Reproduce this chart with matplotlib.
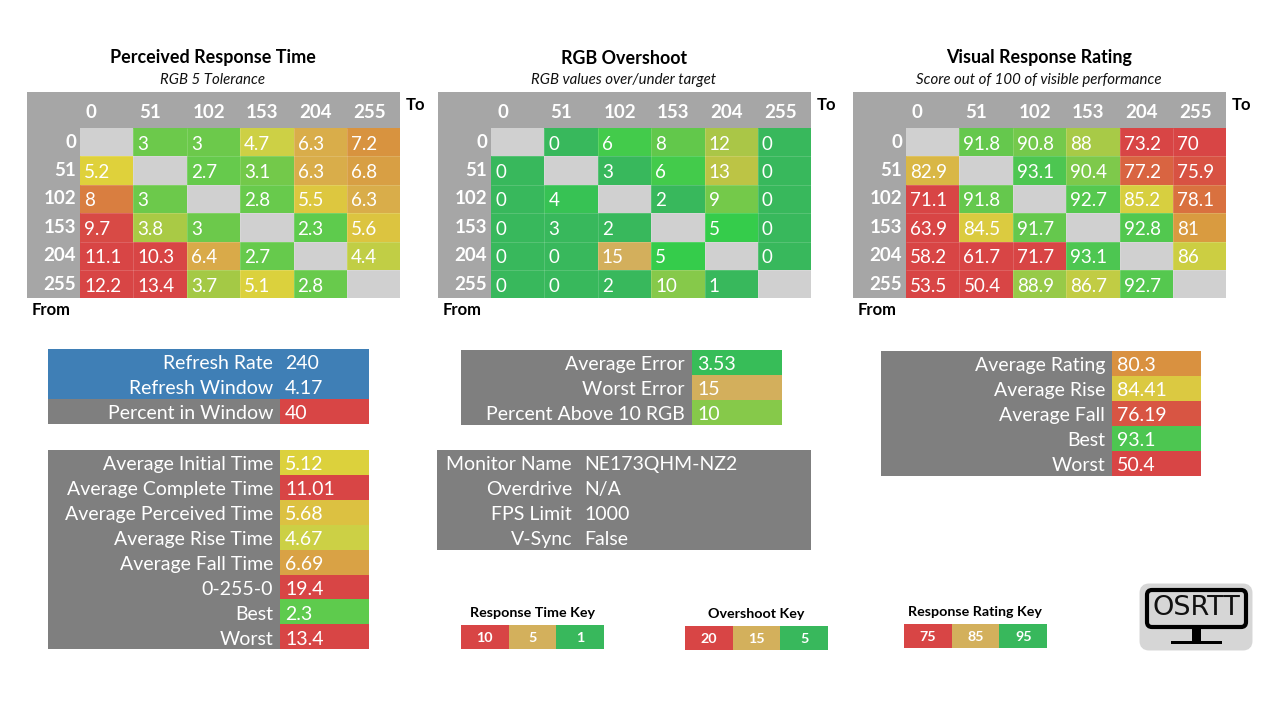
import matplotlib

matplotlib.use("Agg")
import matplotlib.pyplot as plt
import numpy as np
from matplotlib.colors import LinearSegmentedColormap, Normalize
from matplotlib.patches import FancyBboxPatch, Rectangle

plt.rcParams["font.family"] = ["Lato", "DejaVu Sans"]

levels = [0, 51, 102, 153, 204, 255]
nan = np.nan

perceived = [
    [nan, 3, 3, 4.7, 6.3, 7.2],
    [5.2, nan, 2.7, 3.1, 6.3, 6.8],
    [8, 3, nan, 2.8, 5.5, 6.3],
    [9.7, 3.8, 3, nan, 2.3, 5.6],
    [11.1, 10.3, 6.4, 2.7, nan, 4.4],
    [12.2, 13.4, 3.7, 5.1, 2.8, nan],
]
overshoot = [
    [nan, 0, 6, 8, 12, 0],
    [0, nan, 3, 6, 13, 0],
    [0, 4, nan, 2, 9, 0],
    [0, 3, 2, nan, 5, 0],
    [0, 0, 15, 5, nan, 0],
    [0, 0, 2, 10, 1, nan],
]
rating = [
    [nan, 91.8, 90.8, 88, 73.2, 70],
    [82.9, nan, 93.1, 90.4, 77.2, 75.9],
    [71.1, 91.8, nan, 92.7, 85.2, 78.1],
    [63.9, 84.5, 91.7, nan, 92.8, 81],
    [58.2, 61.7, 71.7, 93.1, nan, 86],
    [53.5, 50.4, 88.9, 86.7, 92.7, nan],
]

window_labels = ["Refresh Rate", "Refresh Window", "Percent in Window"]
window_values = ["240", "4.17", "40"]
time_labels = [
    "Average Initial Time",
    "Average Complete Time",
    "Average Perceived Time",
    "Average Rise Time",
    "Average Fall Time",
    "0-255-0",
    "Best",
    "Worst",
]
time_values = ["5.12", "11.01", "5.68", "4.67", "6.69", "19.4", "2.3", "13.4"]
error_labels = ["Average Error", "Worst Error", "Percent Above 10 RGB"]
error_values = ["3.53", "15", "10"]
info_labels = ["Monitor Name", "Overdrive", "FPS Limit", "V-Sync"]
info_values = ["NE173QHM-NZ2", "N/A", "1000", "False"]
score_labels = ["Average Rating", "Average Rise", "Average Fall", "Best", "Worst"]
score_values = ["80.3", "84.41", "76.19", "93.1", "50.4"]

response_key = ["10", "5", "1"]
overshoot_key = ["20", "15", "5"]
rating_key = ["75", "85", "95"]

RED = "#d84545"
TAN = "#d3b05c"
GREEN = "#38b85c"
GREY = "#7f7f7f"
HEADER = "#a6a6a6"
BLANK = "#d0d0d0"
BLUE = "#3f7fb6"


def make_scale(stops):
    vmin, vmax = stops[0][0], stops[-1][0]
    cmap = LinearSegmentedColormap.from_list(
        "scale", [((v - vmin) / (vmax - vmin), c) for v, c in stops]
    )
    cmap.set_bad(BLANK)
    return cmap, Normalize(vmin, vmax)


time_scale = make_scale(
    [
        (1, GREEN),
        (2.3, "#5fcb4d"),
        (3, "#6cc94b"),
        (3.7, "#a5c945"),
        (4.7, "#cdd045"),
        (5.2, "#dfd13b"),
        (5.6, "#dcc440"),
        (6.3, "#d9ad4a"),
        (7.2, "#d8933f"),
        (8, "#d97f40"),
        (9.7, "#d84a45"),
        (10, RED),
    ]
)
error_scale = make_scale(
    [
        (0, GREEN),
        (3, "#38b85c"),
        (5, "#35cc4b"),
        (8, "#62c84b"),
        (10, "#85c94a"),
        (13, "#bcc445"),
        (15, TAN),
        (20, RED),
    ]
)
score_scale = make_scale(
    [
        (50, RED),
        (75, RED),
        (78, "#d9703f"),
        (81, "#d99a40"),
        (83, "#d9b745"),
        (85, "#dcd03f"),
        (87, "#bccb45"),
        (90, "#85c94a"),
        (93, "#50c84f"),
        (95, GREEN),
    ]
)

fig = plt.figure(figsize=(12.8, 7.2), dpi=100)
ax = fig.add_axes([0, 0, 1, 1])
ax.set_xlim(0, 1280)
ax.set_ylim(720, 0)
ax.set_axis_off()


def heat_table(x, title, subtitle, values, scale):
    cmap, norm = scale
    top, head_h, side_w, cell_w, cell_h = 92, 36, 53, 53.4, 28.4
    left = x + side_w
    ax.add_patch(Rectangle((x, top), 373, 206, fc=HEADER, lw=0))
    xs = left + cell_w * np.arange(7)
    ys = top + head_h + cell_h * np.arange(7)
    ax.pcolormesh(xs, ys, np.ma.masked_invalid(values), cmap=cmap, norm=norm)
    # faint cell borders, the source has them barely visible
    ax.vlines(xs[1:-1], ys[0], ys[-1], color="white", lw=0.6, alpha=0.18)
    ax.hlines(ys[1:-1], xs[0], xs[-1], color="white", lw=0.6, alpha=0.18)
    ax.text(x + 186, 58, title, ha="center", va="center", fontsize=12.9,
            fontweight="bold", color="black")
    ax.text(x + 186, 80, subtitle, ha="center", va="center", fontsize=10.8,
            style="italic", color="#111111")
    ax.text(x + 379, 105, "To", va="center", fontsize=12, fontweight="bold")
    ax.text(x + 5, 310, "From", va="center", fontsize=12, fontweight="bold")
    for i, level in enumerate(levels):
        ax.text(xs[i] + 6, 112, str(level), va="center", color="white",
                fontsize=13.5, fontweight="bold")
        ax.text(left - 4, ys[i] + 14, str(level), ha="right", va="center",
                color="white", fontsize=13.5, fontweight="bold")
        for j in range(6):
            if not np.isnan(values[i][j]):
                ax.text(xs[j] + 4, ys[i] + 16, f"{values[i][j]:g}", va="center",
                        color="white", fontsize=13.5)


def stat_table(x, y, w, split, labels, values, scale=None, fills=None):
    row_h = 24.9
    ax.add_patch(Rectangle((x, y), w, row_h * len(labels), fc=GREY, lw=0))
    for i, (label, value) in enumerate(zip(labels, values)):
        row_y = y + row_h * i
        if fills and fills[i]:
            ax.add_patch(Rectangle((x, row_y), w, row_h, fc=fills[i], lw=0))
        elif scale:
            cmap, norm = scale
            ax.pcolormesh([x + split, x + w], [row_y, row_y + row_h], [[float(value)]],
                          cmap=cmap, norm=norm)
        ax.text(x + split - 7, row_y + row_h / 2 + 2.5, label, ha="right", va="center",
                color="white", fontsize=14)
        ax.text(x + split + 5, row_y + row_h / 2 + 2.5, value, va="center",
                color="white", fontsize=14)


def key(x, y, title, labels):
    w, h = 47.7, 24
    ax.text(x + 71, y - 12, title, ha="center", va="center", fontsize=10.3,
            fontweight="bold")
    for i, (label, color) in enumerate(zip(labels, [RED, TAN, GREEN])):
        ax.add_patch(Rectangle((x + w * i, y), w, h, fc=color, lw=0))
        ax.text(x + w * (i + 0.5), y + h / 2 + 1, label, ha="center", va="center",
                color="white", fontsize=10.3, fontweight="bold")


heat_table(27, "Perceived Response Time", "RGB 5 Tolerance", perceived, time_scale)
heat_table(438, "RGB Overshoot", "RGB values over/under target", overshoot, error_scale)
heat_table(853, "Visual Response Rating", "Score out of 100 of visible performance",
           rating, score_scale)

stat_table(48, 349, 321, 232, window_labels[:2], window_values[:2], fills=[BLUE, BLUE])
stat_table(48, 399, 321, 232, window_labels[2:], window_values[2:], score_scale)
stat_table(48, 450, 321, 232, time_labels, time_values, time_scale)
stat_table(461, 350, 321, 231, error_labels, error_values, error_scale)
stat_table(437, 450, 374, 142, info_labels, info_values)
stat_table(881, 351, 320, 231, score_labels, score_values, score_scale)

key(461, 625, "Response Time Key", response_key)
key(685, 626, "Overshoot Key", overshoot_key)
key(904, 624, "Response Rating Key", rating_key)

# logo
ax.add_patch(FancyBboxPatch((1143, 587), 106, 60, boxstyle="round,pad=0,rounding_size=6",
                            fc="#d6d6d6", ec="#d6d6d6", lw=5))
ax.add_patch(FancyBboxPatch((1147, 590), 99, 37, boxstyle="round,pad=0,rounding_size=5",
                            fc="#d6d6d6", ec="black", lw=3))
ax.text(1196, 608, "OSRTT", ha="center", va="center", fontsize=19.5, color="#111111",
        family="DejaVu Sans")
ax.add_patch(Rectangle((1192, 628), 9, 13, fc="black", lw=0))
ax.add_patch(Rectangle((1171, 641), 51, 3, fc="black", lw=0))

fig.savefig("out.png", dpi=100, facecolor="white")
